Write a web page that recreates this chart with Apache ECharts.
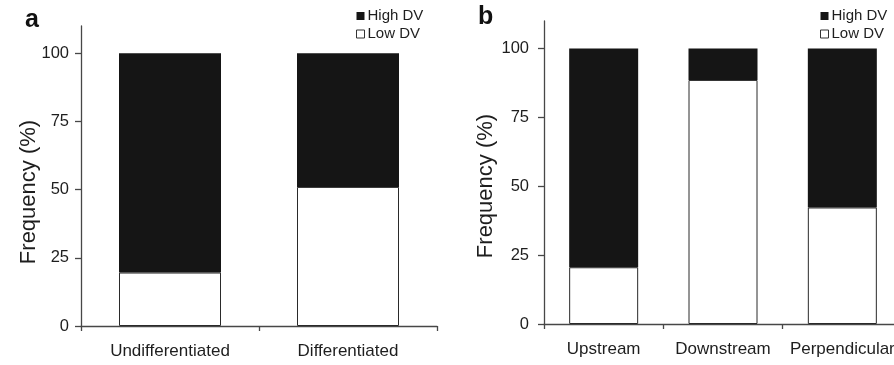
<!DOCTYPE html>
<html>
<head>
<meta charset="utf-8">
<script src="https://cdn.jsdelivr.net/npm/echarts@6/dist/echarts.min.js"></script>
<style>
html,body{margin:0;padding:0;background:#fff;overflow:hidden;width:894px;height:365px;}
#c{width:912px;height:365px;}
</style>
</head>
<body>
<div id="c"></div>
<script>
// Panel a
var catsA = ['Undifferentiated', 'Differentiated'];
var lowA = [19.6, 51.0];
var highA = [80.4, 49.0];
// Panel b
var catsB = ['Upstream', 'Downstream', 'Perpendicular'];
var lowB = [20.6, 88.6, 42.3];
var highB = [79.4, 11.4, 57.7];
// Axis ticks
var yTicks = [0, 25, 50, 75, 100];
var seriesNames = ['High DV', 'Low DV'];
var yTitle = 'Frequency (%)';

var FONT = '"Liberation Sans", Arial, Helvetica, sans-serif';
var TXT = '#1e1e1e';
var AXC = '#474747';

function xAx(idx, cats) {
  return {
    type: 'category', gridIndex: idx, data: cats,
    axisLine: {lineStyle: {color: AXC, width: 1.3}},
    axisTick: {show: true, length: 5, lineStyle: {color: AXC, width: 1.3}},
    axisLabel: {color: TXT, fontSize: 17, fontFamily: FONT, margin: 17, interval: 0, hideOverlap: false}
  };
}
function yAx(idx, margin) {
  return {
    type: 'value', gridIndex: idx, min: 0, max: 110,
    axisLine: {show: true, lineStyle: {color: AXC, width: 1.3}},
    axisTick: {show: true, length: 6, customValues: yTicks, lineStyle: {color: AXC, width: 1.3}},
    axisLabel: {color: TXT, fontSize: 16.5, fontFamily: FONT, margin: margin, customValues: yTicks},
    splitLine: {show: false}
  };
}
var lowStyle = {color: '#ffffff', borderColor: '#2a2a2a', borderWidth: 1};
var highStyle = {color: '#151515', borderColor: '#151515', borderWidth: 0};

function legend(left) {
  return {
    orient: 'vertical', left: left, top: 8, padding: 0, itemWidth: 8, itemHeight: 8, itemGap: 2,
    icon: 'rect',
    textStyle: {color: TXT, fontSize: 15, fontFamily: FONT, lineHeight: 16, padding: [0, 0, 0, -2]},
    data: [
      {name: seriesNames[0], itemStyle: {color: '#151515', borderWidth: 0}},
      {name: seriesNames[1], itemStyle: {color: '#ffffff', borderColor: '#333', borderWidth: 1}}
    ]
  };
}

var chart = echarts.init(document.getElementById('c'), null, {renderer: 'canvas'});
chart.setOption({
  animation: false,
  backgroundColor: '#ffffff',
  grid: [
    {left: 81, width: 356, top: 26, bottom: 39},
    {left: 544, width: 358, top: 21, bottom: 41}
  ],
  xAxis: [xAx(0, catsA), xAx(1, catsB)],
  yAxis: [yAx(0, 12), yAx(1, 15)],
  legend: [legend(356), legend(820)],
  series: [
    {name: seriesNames[1], type: 'bar', stack: 'a', xAxisIndex: 0, yAxisIndex: 0, data: lowA, barWidth: 102, itemStyle: lowStyle},
    {name: seriesNames[0], type: 'bar', stack: 'a', xAxisIndex: 0, yAxisIndex: 0, data: highA, barWidth: 102, itemStyle: highStyle},
    {name: seriesNames[1], type: 'bar', stack: 'b', xAxisIndex: 1, yAxisIndex: 1, data: lowB, barWidth: 69, itemStyle: lowStyle},
    {name: seriesNames[0], type: 'bar', stack: 'b', xAxisIndex: 1, yAxisIndex: 1, data: highB, barWidth: 69, itemStyle: highStyle}
  ],
  graphic: [
    {type: 'text', left: 25, top: 8, style: {text: 'a', fontSize: 25, fontWeight: 'bold', fontFamily: FONT, fill: '#111'}},
    {type: 'text', left: 478, top: 5, style: {text: 'b', fontSize: 25, fontWeight: 'bold', fontFamily: FONT, fill: '#111'}},
    {type: 'text', x: 29, y: 192, rotation: Math.PI / 2, style: {text: yTitle, fontSize: 22, fontFamily: FONT, fill: TXT, align: 'center', verticalAlign: 'middle'}},
    {type: 'text', x: 485.5, y: 186, rotation: Math.PI / 2, style: {text: yTitle, fontSize: 22, fontFamily: FONT, fill: TXT, align: 'center', verticalAlign: 'middle'}}
  ]
});
</script>
</body>
</html>
